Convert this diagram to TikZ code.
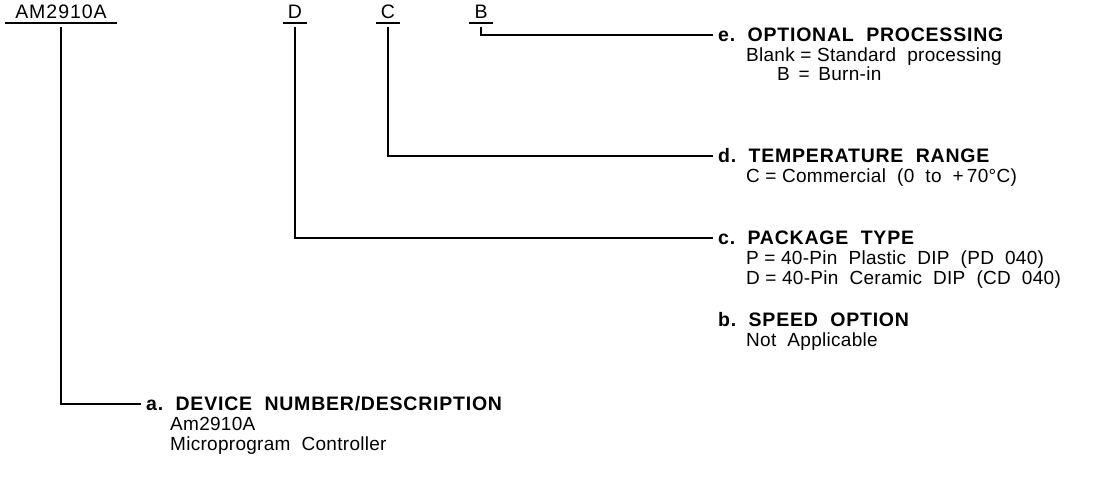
\documentclass[tikz,border=0pt]{standalone}
\usepackage{fontspec}
\setmainfont{Liberation Sans}
\begin{document}
\begin{tikzpicture}[x=1pt,y=-1pt,
  txt/.style={font=\fontsize{19}{20}\selectfont\addfontfeature{LetterSpace=1.5}, inner sep=0pt, anchor=west, text height=13.6pt, text depth=0pt},
  head/.style={txt, font=\fontsize{19.5}{20}\selectfont\bfseries\addfontfeature{LetterSpace=4}},
  code/.style={txt, font=\fontsize{19.5}{20}\selectfont\addfontfeature{LetterSpace=5}, anchor=center, minimum width=#1, text height=13.6pt, text depth=4pt},
  wire/.style={line width=1.4pt},
  uline/.style={line width=1.2pt}]
\useasboundingbox (0,0) rectangle (1117,486);
% part number codes
\node[code=112pt] (am) at (61,14) {AM2910A};
\node[code=24pt] (cD) at (295,14) {D};
\node[code=24pt] (cC) at (388,14) {C};
\node[code=24pt] (cB) at (481,14) {B};
\foreach \n in {am,cD,cC,cB}{\draw[uline] (\n.south west) -- (\n.south east);}
% option headings
\node[head] (e) at (718,35) {e.\ \ OPTIONAL\ \ PROCESSING};
\node[txt] (e1) at (746,55) {Blank = Standard\ \ processing};
\node[txt] (e2) at (777,74) {B\ \,= \,Burn-in};
\node[head] (d) at (718,156) {d.\ \ TEMPERATURE\ \ RANGE};
\node[txt] (d1) at (746,176) {C = Commercial\ \ (0\ \ to\ \ +\,70°C)};
\node[head] (c) at (718,238) {c.\ \ PACKAGE\ \ TYPE};
\node[txt] (c1) at (746,258) {P = 40-Pin\ \ Plastic\ \ DIP\ \ (PD\ \ 040)};
\node[txt] (c2) at (746,278) {D = 40-Pin\ \ Ceramic\ \ DIP\ \ (CD\ \ 040)};
\node[head] (b) at (718,320) {b.\ \ SPEED\ \ OPTION};
\node[txt] (b1) at (746,340) {Not\ \ Applicable};
\node[head] (a) at (146,404) {a.\ \ DEVICE\ \ NUMBER/DESCRIPTION};
\node[txt] (a1) at (170,424) {Am2910A};
\node[txt] (a2) at (170,444) {Microprogram\ \ Controller};
% connectors
\draw[wire] ([yshift=-4pt]cB.south) |- ([xshift=-5pt]e.west);
\draw[wire] ([yshift=-4pt]cC.south) |- ([xshift=-5pt]d.west);
\draw[wire] ([yshift=-4pt]cD.south) |- ([xshift=-5pt]c.west);
\draw[wire] ([yshift=-4pt]am.south) |- ([xshift=-5pt]a.west);
\end{tikzpicture}
\end{document}
